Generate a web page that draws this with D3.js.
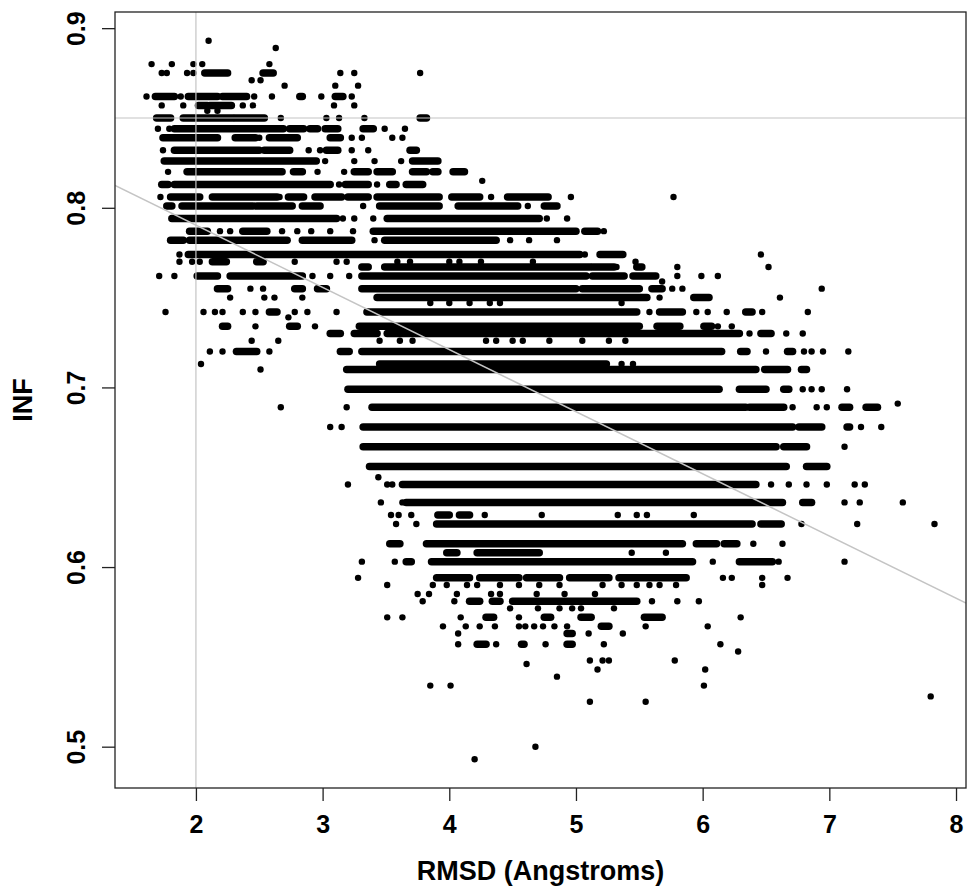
<!DOCTYPE html>
<html>
<head>
<meta charset="utf-8">
<script src="https://cdn.jsdelivr.net/npm/d3@7/dist/d3.min.js"></script>
<style>
  html, body { margin: 0; padding: 0; background: #fff; }
  svg { display: block; }
  text { font-family: "Liberation Sans", Arial, Helvetica, sans-serif; font-weight: bold; fill: #000; }
</style>
</head>
<body>
<svg id="chart" width="968" height="891"></svg>
<script>
// Axis ticks and titles
const xTicks = [2, 3, 4, 5, 6, 7, 8];
const yTicks = [0.5, 0.6, 0.7, 0.8, 0.9];
const xTitle = "RMSD (Angstroms)";
const yTitle = "INF";

// Reference lines and least-squares fit INF = a + b * RMSD
const refInf = 0.85;
const refRmsd = 2;
const fitIntercept = 0.8595;
const fitSlope = -0.0346;

// INF takes discrete values; each level lists its isolated RMSD values
// and the RMSD ranges where points are packed edge to edge.
const infLevels = [
  0.893, 0.889, 0.880, 0.875, 0.871, 0.868, 0.862, 0.857, 0.854, 0.850,
  0.844, 0.839, 0.832, 0.826, 0.820, 0.815, 0.813, 0.806, 0.801, 0.794,
  0.787, 0.782, 0.774, 0.770, 0.767, 0.762, 0.759, 0.755, 0.750, 0.747,
  0.742, 0.739, 0.734, 0.730, 0.726, 0.720, 0.713, 0.710, 0.699, 0.691,
  0.689, 0.678, 0.667, 0.656, 0.650, 0.646, 0.636, 0.629, 0.624, 0.613,
  0.608, 0.603, 0.594, 0.590, 0.585, 0.581, 0.577, 0.572, 0.567, 0.563,
  0.557, 0.553, 0.548, 0.546, 0.543, 0.539, 0.534, 0.528, 0.525, 0.500,
  0.493
];

const pointsByLevel = [
  [2.10],                                              // 0.893
  [2.63],                                              // 0.889
  [1.65, 1.81, 1.98, 2.05, 2.58],                      // 0.880
  [1.73, 1.77, 1.93, 1.98, 3.14, 3.25, 3.77],          // 0.875
  [2.44, 2.51],                                        // 0.871
  [2.70, 3.10, 3.28],                                  // 0.868
  [1.61, 1.88, 2.46, 2.60, 2.99, 3.23],                // 0.862
  [1.73, 1.90, 2.37, 2.45, 3.09, 3.25],                // 0.857
  [2.09, 2.17],                                        // 0.854
  [2.67, 3.03, 3.13, 3.33],                            // 0.850
  [1.70, 1.79, 3.49, 3.65],                            // 0.844
  [2.50, 3.23, 3.31, 3.55, 3.63],                      // 0.839
  [1.74, 2.89, 2.98, 3.23, 3.36],                      // 0.832
  [3.02, 3.25, 3.41, 3.62],                            // 0.826
  [1.78, 2.96, 3.17],                                  // 0.820
  [4.26],                                              // 0.815
  [3.13, 3.43],                                        // 0.813
  [1.72, 2.66, 4.33, 4.96, 5.77],                      // 0.806
  [3.32, 4.62],                                        // 0.801
  [3.16, 3.25, 3.40, 4.77, 4.93],                      // 0.794
  [2.19, 2.27, 2.68, 2.80, 2.91, 3.06, 3.24, 5.22],    // 0.787
  [3.41, 4.48, 4.63, 4.85],                            // 0.782
  [1.87, 5.07, 6.46],                                  // 0.774
  [1.87, 1.97, 2.03, 2.53, 2.78, 3.11, 3.19, 3.59, 3.69, 4.00, 4.08, 4.25, 4.66, 5.47], // 0.770
  [5.32, 5.80, 6.52],                                  // 0.767
  [1.71, 1.83, 2.82, 2.92, 3.06, 3.21, 5.80, 5.99, 6.12], // 0.762
  [5.68],                                              // 0.759
  [2.43, 2.53, 5.76, 5.84, 6.94],                      // 0.755
  [2.27, 2.54, 2.62, 2.84, 5.66, 6.61],                // 0.750
  [3.85, 4.00, 4.16, 4.32, 4.40, 5.36],                // 0.747
  [1.76, 2.06, 2.15, 2.21, 2.37, 2.47, 2.78, 2.88, 3.11, 5.58, 5.95, 6.04, 6.19, 6.47, 6.83], // 0.742
  [2.73],                                              // 0.739
  [2.47, 2.94, 6.12, 6.23],                            // 0.734
  [6.37, 6.66, 6.79],                                  // 0.730
  [2.44, 2.65, 3.45, 3.61, 3.71, 4.29, 4.37, 4.50, 4.58, 4.79, 5.05, 5.26, 5.39], // 0.726
  [2.11, 2.21, 2.58, 6.50, 6.80, 6.86, 6.95, 7.15],    // 0.720
  [2.04, 5.36, 5.45],                                  // 0.713
  [2.51],                                              // 0.710
  [6.79, 6.86, 6.94, 7.14],                            // 0.699
  [7.54],                                              // 0.691
  [2.67, 3.19, 6.71, 6.90, 6.98],                      // 0.689
  [3.06, 3.15, 7.25, 7.41],                            // 0.678
  [7.12],                                              // 0.667
  [],                                                  // 0.656
  [3.44],                                              // 0.650
  [3.20, 3.51, 3.55, 6.54, 6.68, 6.82, 6.98, 7.20, 7.28], // 0.646
  [3.46, 3.63, 7.12, 7.24, 7.58],                      // 0.636
  [3.54, 3.60, 3.70, 4.28, 4.73, 5.33, 5.48, 5.56, 5.93], // 0.629
  [3.58, 3.74, 6.78, 7.22, 7.83],                      // 0.624
  [6.40, 6.63],                                        // 0.613
  [5.44, 5.71],                                        // 0.608
  [3.31, 3.57, 6.08, 6.60, 7.12],                      // 0.603
  [3.28, 6.16, 6.23, 6.47, 6.67],                      // 0.594
  [3.51, 3.87, 3.98, 4.14, 4.22, 4.40, 4.55, 4.71, 4.87, 5.21, 5.36, 5.48, 5.58, 5.66, 5.79, 6.47], // 0.590
  [3.75, 3.84, 4.06, 4.33, 4.40, 4.69, 4.91, 5.15],    // 0.585
  [3.79, 4.04, 5.60, 5.80, 5.97],                      // 0.581
  [4.48, 4.70, 4.87, 4.97, 5.04, 5.30],                // 0.577
  [3.51, 3.63, 4.09, 4.55, 6.30],                      // 0.572
  [3.95, 4.13, 4.24, 4.36, 4.55, 4.60, 4.67, 4.74, 4.83, 4.93, 5.55, 6.04], // 0.567
  [4.07, 5.10, 5.37],                                  // 0.563
  [4.07, 4.37, 4.76, 5.22, 6.14],                      // 0.557
  [6.28],                                              // 0.553
  [5.11, 5.21, 5.26, 5.78],                            // 0.548
  [4.61],                                              // 0.546
  [5.17, 6.02],                                        // 0.543
  [4.85],                                              // 0.539
  [3.85, 4.01, 6.01],                                  // 0.534
  [7.80],                                              // 0.528
  [5.11, 5.55],                                        // 0.525
  [4.68],                                              // 0.500
  [4.20]                                               // 0.493
];

const runsByLevel = [
  [], [], [],                                                                   // 0.893 - 0.880
  [[2.07, 2.25], [2.53, 2.61]],                                                 // 0.875
  [], [],                                                                       // 0.871, 0.868
  [[1.68, 1.83], [1.94, 2.17], [2.21, 2.40], [2.82, 2.84], [3.10, 3.16]],       // 0.862
  [[2.02, 2.09], [2.11, 2.28]],                                                 // 0.857
  [],                                                                           // 0.854
  [[1.69, 1.80], [1.90, 2.29], [2.31, 2.54], [3.77, 3.82]],                     // 0.850
  [[1.83, 2.69], [2.74, 2.85], [2.90, 2.96], [3.02, 3.12], [3.32, 3.40]],       // 0.844
  [[1.74, 2.17], [2.31, 2.47], [2.58, 2.80], [3.06, 3.14]],                     // 0.839
  [[1.83, 2.50], [2.54, 2.74], [3.03, 3.12], [3.69, 3.74]],                     // 0.832
  [[1.75, 2.95], [3.71, 3.91]],                                                 // 0.826
  [[1.93, 2.68], [2.77, 2.84], [3.25, 3.36], [3.43, 3.55], [3.71, 3.82], [3.87, 3.91], [4.03, 4.12]], // 0.820
  [],                                                                           // 0.815
  [[1.73, 1.78], [1.83, 3.06], [3.18, 3.36], [3.53, 3.58], [3.66, 3.79]],       // 0.813
  [[1.80, 2.03], [2.13, 2.64], [2.73, 2.85], [2.94, 3.15], [3.20, 3.36], [3.43, 3.92], [4.02, 4.24], [4.46, 4.78]], // 0.806
  [[1.77, 1.81], [1.89, 2.45], [2.48, 2.76], [2.84, 2.98], [3.45, 3.92], [4.07, 4.54], [4.75, 4.85]], // 0.801
  [[1.81, 3.11], [3.51, 4.71]],                                                 // 0.794
  [[1.95, 2.09], [2.37, 2.56], [3.40, 5.00], [5.07, 5.17]],                     // 0.787
  [[1.80, 1.90], [1.95, 2.72], [2.84, 3.23], [3.49, 4.37]],                     // 0.782
  [[1.94, 5.03], [5.19, 5.37]],                                                 // 0.774
  [[2.13, 2.24], [2.48, 2.53]],                                                 // 0.770
  [[3.31, 3.36], [3.49, 5.11], [5.13, 5.30], [5.48, 5.52]],                     // 0.767
  [[2.01, 2.17], [2.27, 2.84], [3.31, 5.08], [5.13, 5.38], [5.45, 5.63]],       // 0.762
  [],                                                                           // 0.759
  [[2.17, 2.25], [2.78, 2.84], [2.96, 3.03], [3.31, 5.00], [5.05, 5.50], [5.60, 5.68]], // 0.755
  [[3.43, 5.56], [5.93, 6.05]],                                                 // 0.750
  [],                                                                           // 0.747
  [[2.58, 2.64], [3.35, 5.48], [5.66, 5.84], [6.34, 6.39]],                     // 0.742
  [],                                                                           // 0.739
  [[2.21, 2.25], [2.74, 2.80], [3.29, 5.50], [5.64, 5.82], [6.01, 6.07]],       // 0.734
  [[3.06, 3.14], [3.25, 3.43], [3.51, 6.29], [6.46, 6.54]],                     // 0.730
  [],                                                                           // 0.726
  [[2.32, 2.48], [3.14, 3.21], [3.31, 6.15], [6.30, 6.35], [6.67, 6.71]],       // 0.720
  [[3.45, 5.24]],                                                               // 0.713
  [[3.19, 6.42], [6.49, 6.67], [6.78, 6.82]],                                   // 0.710
  [[3.20, 6.13], [6.29, 6.50], [6.64, 6.68]],                                   // 0.699
  [],                                                                           // 0.691
  [[3.39, 6.34], [6.37, 6.64], [7.10, 7.16], [7.29, 7.38]],                     // 0.689
  [[3.32, 6.71], [6.76, 6.94], [7.14, 7.16]],                                   // 0.678
  [[3.32, 6.58], [6.64, 6.82]],                                                 // 0.667
  [[3.37, 6.66], [6.82, 6.98]],                                                 // 0.656
  [],                                                                           // 0.650
  [[3.63, 6.42]],                                                               // 0.646
  [[3.66, 6.63], [6.79, 6.86]],                                                 // 0.636
  [[3.91, 4.00], [4.08, 4.16]],                                                 // 0.629
  [[3.90, 6.39], [6.46, 6.62]],                                                 // 0.624
  [[3.53, 3.61], [3.82, 5.84], [5.95, 6.11], [6.17, 6.27]],                     // 0.613
  [[3.98, 4.06], [4.22, 4.71]],                                                 // 0.608
  [[3.66, 3.70], [3.86, 5.92], [6.29, 6.55]],                                   // 0.603
  [[3.90, 4.16], [4.24, 4.55], [4.61, 4.87], [4.95, 5.26], [5.34, 5.87]],       // 0.594
  [], [],                                                                       // 0.590, 0.585
  [[4.16, 4.24], [4.34, 4.40], [4.50, 5.48]],                                   // 0.581
  [],                                                                           // 0.577
  [[4.29, 4.35], [4.75, 4.80], [5.04, 5.12], [5.54, 5.68]],                     // 0.572
  [[5.20, 5.26]],                                                               // 0.567
  [[4.93, 4.97]],                                                               // 0.563
  [[4.22, 4.29], [4.57, 4.59], [4.93, 4.97]],                                   // 0.557
  [], [], [], [], [], [], [], [], [], []                                        // 0.553 - 0.493
];

// ---- layout ----
const W = 968, H = 891;
const plot = { left: 115, right: 966, top: 12, bottom: 788 };
const dotR = 3.2;
const runWidth = 7.5;   // packed runs also spread a little over neighbouring INF values

const points = [];
const runs = [];
infLevels.forEach((inf, i) => {
  (pointsByLevel[i] || []).forEach(r => points.push({ rmsd: r, inf }));
  (runsByLevel[i] || []).forEach(([a, b]) => runs.push({ a, b, inf }));
});

// Axis limits: data range widened by 4% on each side
const xs = points.map(d => d.rmsd).concat(runs.flatMap(d => [d.a, d.b]));
const ys = infLevels;
function padded(vals) {
  const [lo, hi] = d3.extent(vals);
  const p = (hi - lo) * 0.04;
  return [lo - p, hi + p];
}
const x = d3.scaleLinear().domain(padded(xs)).range([plot.left, plot.right]);
const y = d3.scaleLinear().domain(padded(ys)).range([plot.bottom, plot.top]);

const svg = d3.select("#chart");
svg.append("rect").attr("width", W).attr("height", H).attr("fill", "#fff");

svg.append("defs").append("clipPath").attr("id", "plotClip")
  .append("rect")
  .attr("x", plot.left).attr("y", plot.top)
  .attr("width", plot.right - plot.left).attr("height", plot.bottom - plot.top);

// Points
const gPts = svg.append("g");
gPts.selectAll("line.run")
  .data(runs).join("line")
  .attr("class", "run")
  .attr("x1", d => x(d.a)).attr("x2", d => x(d.b))
  .attr("y1", d => y(d.inf)).attr("y2", d => y(d.inf))
  .attr("stroke", "#000").attr("stroke-width", runWidth)
  .attr("stroke-linecap", "round");
gPts.selectAll("circle")
  .data(points).join("circle")
  .attr("cx", d => x(d.rmsd)).attr("cy", d => y(d.inf))
  .attr("r", dotR).attr("fill", "#000");

// Reference and fit lines over the points
const gLines = svg.append("g").attr("clip-path", "url(#plotClip)");
const [x0, x1] = x.domain();
const [y0, y1] = y.domain();
gLines.append("line")
  .attr("x1", x(x0)).attr("x2", x(x1))
  .attr("y1", y(refInf)).attr("y2", y(refInf))
  .attr("stroke", "#c4c4c4").attr("stroke-width", 1.2);
gLines.append("line")
  .attr("x1", x(refRmsd)).attr("x2", x(refRmsd))
  .attr("y1", y(y0)).attr("y2", y(y1))
  .attr("stroke", "#c4c4c4").attr("stroke-width", 1.2);
gLines.append("line")
  .attr("x1", x(x0)).attr("x2", x(x1))
  .attr("y1", y(fitIntercept + fitSlope * x0))
  .attr("y2", y(fitIntercept + fitSlope * x1))
  .attr("stroke", "#c4c4c4").attr("stroke-width", 1.5);

// Plot frame
svg.append("rect")
  .attr("x", plot.left).attr("y", plot.top)
  .attr("width", plot.right - plot.left).attr("height", plot.bottom - plot.top)
  .attr("fill", "none").attr("stroke", "#222").attr("stroke-width", 1.3);

// Axes
const xAxis = d3.axisBottom(x).tickValues(xTicks).tickSize(13).tickPadding(15)
  .tickFormat(d3.format("d"));
const gx = svg.append("g").attr("transform", `translate(0,${plot.bottom})`).call(xAxis);
gx.select(".domain").remove();
gx.selectAll(".tick line").attr("stroke", "#222").attr("stroke-width", 1.3);
gx.selectAll(".tick text")
  .attr("y", 36).attr("dy", "0.35em")
  .style("font-size", "25px").style("font-family", "'Liberation Sans', Arial, sans-serif")
  .style("font-weight", "bold").attr("fill", "#000");

const yAxis = d3.axisLeft(y).tickValues(yTicks).tickSize(13).tickFormat(d3.format(".1f"));
const gy = svg.append("g").attr("transform", `translate(${plot.left},0)`).call(yAxis);
gy.select(".domain").remove();
gy.selectAll(".tick line").attr("stroke", "#222").attr("stroke-width", 1.3);
gy.selectAll(".tick text")
  .attr("x", 0).attr("dy", null)
  .attr("text-anchor", "middle").attr("dominant-baseline", "central")
  .attr("transform", "translate(-39,0) rotate(-90)")
  .style("font-size", "25px").style("font-family", "'Liberation Sans', Arial, sans-serif")
  .style("font-weight", "bold").attr("fill", "#000");

// Axis titles
svg.append("text")
  .attr("x", (plot.left + plot.right) / 2).attr("y", 871)
  .attr("text-anchor", "middle").attr("dominant-baseline", "central")
  .style("font-size", "27px")
  .text(xTitle);
svg.append("text")
  .attr("transform", `translate(23,${(plot.top + plot.bottom) / 2}) rotate(-90)`)
  .attr("text-anchor", "middle").attr("dominant-baseline", "central")
  .style("font-size", "27px")
  .text(yTitle);
</script>
</body>
</html>
